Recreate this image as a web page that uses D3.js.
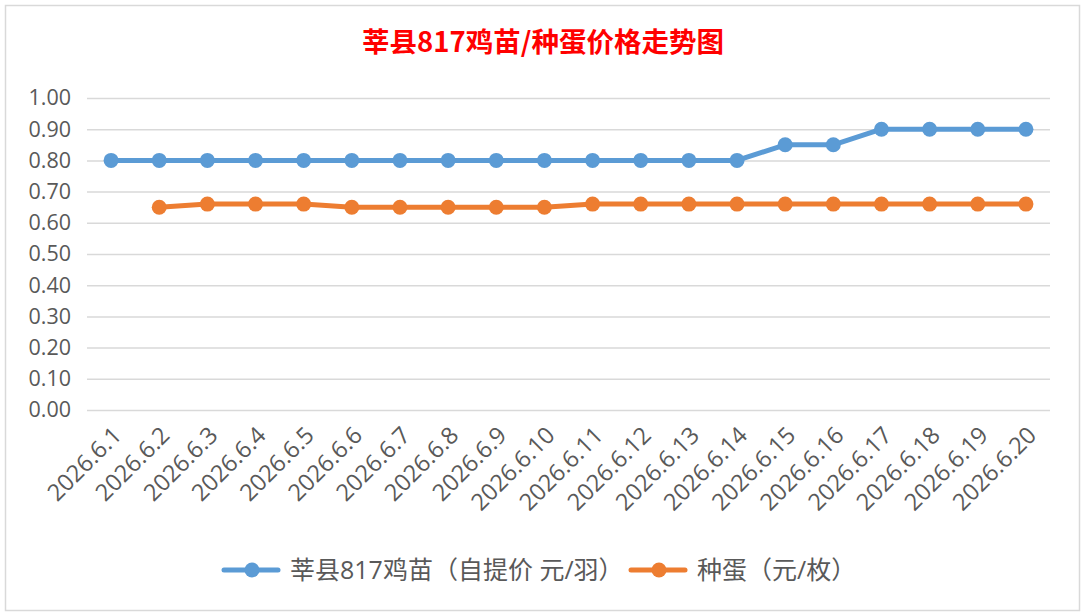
<!DOCTYPE html>
<html>
<head>
<meta charset="utf-8">
<script src="https://cdn.jsdelivr.net/npm/d3@7/dist/d3.min.js"></script>
<style>
  body { margin: 0; background: #fff; }
  svg { display: block; }
</style>
</head>
<body>
<svg id="main-svg"></svg>
<script>
// data
let dates = ['2026.6.1', '2026.6.2', '2026.6.3', '2026.6.4', '2026.6.5', '2026.6.6', '2026.6.7',
  '2026.6.8', '2026.6.9', '2026.6.10', '2026.6.11', '2026.6.12', '2026.6.13', '2026.6.14',
  '2026.6.15', '2026.6.16', '2026.6.17', '2026.6.18', '2026.6.19', '2026.6.20'];
let chickPrice = [0.80, 0.80, 0.80, 0.80, 0.80, 0.80, 0.80, 0.80, 0.80, 0.80,
  0.80, 0.80, 0.80, 0.80, 0.85, 0.85, 0.90, 0.90, 0.90, 0.90];
let eggPrice = [null, 0.65, 0.66, 0.66, 0.66, 0.65, 0.65, 0.65, 0.65, 0.65,
  0.66, 0.66, 0.66, 0.66, 0.66, 0.66, 0.66, 0.66, 0.66, 0.66];
let yTicks = [0, 0.1, 0.2, 0.3, 0.4, 0.5, 0.6, 0.7, 0.8, 0.9, 1.0];
let seriesNames = ['莘县817鸡苗（自提价 元/羽）', '种蛋（元/枚）'];
let title = '莘县817鸡苗/种蛋价格走势图';

let width = 1086;
let height = 614;
let plot = { left: 87, right: 1050, top: 98, bottom: 410 };
let colors = ['#5B9BD5', '#ED7D31'];
let textColor = '#595959';
let font = '"Open Sans", "Noto Sans CJK SC", sans-serif';

let svg = d3.select('#main-svg')
  .attr('width', width)
  .attr('height', height);

// chart frame
svg.append('rect')
  .attr('x', 5.5).attr('y', 5.5)
  .attr('width', 1074).attr('height', 605)
  .attr('fill', '#fff')
  .attr('stroke', '#D9D9D9')
  .attr('stroke-width', 1.5);

let x = d3.scaleBand()
  .domain(dates)
  .range([plot.left, plot.right]);

let y = d3.scaleLinear()
  .domain([0, 1])
  .range([plot.bottom, plot.top]);

// title
svg.append('text')
  .attr('x', 543)
  .attr('y', 52)
  .attr('text-anchor', 'middle')
  .style('font-family', '"Noto Sans CJK SC", sans-serif')
  .style('font-weight', 'bold')
  .style('font-size', '27.5px')
  .style('fill', '#FF0000')
  .text(title);

// gridlines + y labels
let yAxis = d3.axisLeft(y)
  .tickValues(yTicks)
  .tickFormat(d3.format('.2f'))
  .tickSize(-(plot.right - plot.left))
  .tickPadding(16);

svg.append('g')
  .attr('transform', `translate(${plot.left} 0)`)
  .call(yAxis)
  .call(g => g.select('.domain').remove())
  .call(g => g.selectAll('.tick line').attr('stroke', '#D9D9D9').attr('stroke-width', 1.5))
  .call(g => g.selectAll('.tick text')
    .style('font-family', font)
    .style('font-size', '21.5px')
    .style('fill', textColor));

// x labels, rotated
let xAxis = d3.axisBottom(x).tickSize(0).tickPadding(0);
svg.append('g')
  .attr('transform', `translate(0 ${plot.bottom})`)
  .call(xAxis)
  .call(g => g.select('.domain').remove())
  .call(g => g.selectAll('.tick text')
    .attr('text-anchor', 'end')
    .attr('dy', '0.35em')
    .attr('transform', 'translate(6 21) rotate(-45)')
    .style('font-family', font)
    .style('font-size', '23.5px')
    .style('fill', textColor));

// lines and markers
let series = [chickPrice, eggPrice];
series.forEach((values, i) => {
  let pts = values.map((v, j) => ({ date: dates[j], value: v })).filter(d => d.value !== null);
  let line = d3.line()
    .x(d => x(d.date) + x.bandwidth() / 2)
    .y(d => y(d.value));
  svg.append('path').datum(pts)
    .attr('d', line)
    .attr('fill', 'none')
    .attr('stroke', colors[i])
    .attr('stroke-width', 5)
    .attr('stroke-linejoin', 'round');
  svg.append('g').selectAll('circle')
    .data(pts)
    .join('circle')
    .attr('cx', d => x(d.date) + x.bandwidth() / 2)
    .attr('cy', d => y(d.value))
    .attr('r', 7.5)
    .attr('fill', colors[i]);
});

// legend
let legendX = [222, 629];
let legend = svg.append('g').attr('class', 'legend');
seriesNames.forEach((name, i) => {
  let g = legend.append('g').attr('transform', `translate(${legendX[i]} 570)`);
  g.append('line')
    .attr('x1', 2).attr('x2', 56)
    .attr('stroke', colors[i])
    .attr('stroke-width', 5)
    .attr('stroke-linecap', 'round');
  g.append('circle')
    .attr('cx', 30).attr('r', 7.5)
    .attr('fill', colors[i]);
  g.append('text')
    .attr('x', 68)
    .attr('dy', '0.35em')
    .style('font-family', font)
    .style('font-size', '25px')
    .style('fill', textColor)
    .text(name);
});
</script>
</body>
</html>
